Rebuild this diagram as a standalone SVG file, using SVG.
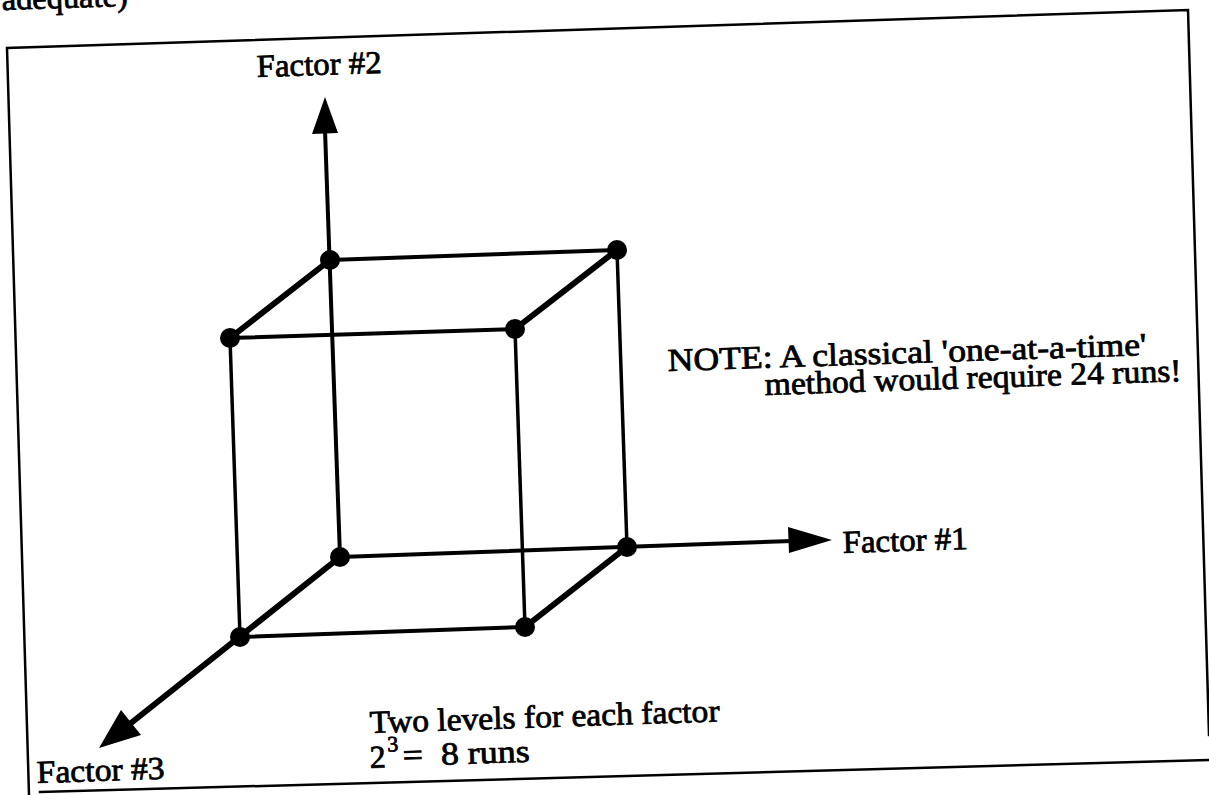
<svg xmlns="http://www.w3.org/2000/svg" width="1209" height="795" viewBox="0 0 1209 795">
  <style>
    .t { font-family: "Liberation Serif", "Times New Roman", serif; font-size: 32px; fill: #000; stroke: #000; stroke-width: 0.8; }
    .frame { fill: none; stroke: #000; stroke-width: 2.5; stroke-linecap: square; }
    .edge { fill: none; stroke: #000; stroke-width: 4; stroke-linecap: round; }
    .depth { fill: none; stroke: #000; stroke-width: 6; stroke-linecap: round; }
    .vert { fill: none; stroke: #000; stroke-width: 3.5; stroke-linecap: round; }
    .head { fill: #000; stroke: none; }
    .node { fill: #000; }
  </style>
  <rect x="0" y="0" width="1209" height="795" fill="#fff"/>

  <text class="t" x="2" y="10" textLength="126" lengthAdjust="spacingAndGlyphs" transform="rotate(-1.9 2 10)">adequate)</text>

  <g id="frame">
    <polyline class="frame" points="29,795 7,48 1188,10 1209,735"/>
    <line class="frame" x1="40" y1="792" x2="1209" y2="760"/>
  </g>

  <g id="connectors">
    <line class="edge" x1="330" y1="260" x2="617" y2="250"/>
    <line class="edge" x1="230" y1="338" x2="515" y2="329"/>
    <line class="depth" x1="330" y1="260" x2="230" y2="338"/>
    <line class="depth" x1="617" y1="250" x2="515" y2="329"/>
    <line class="vert" x1="230" y1="338" x2="240" y2="637"/>
    <line class="vert" x1="515" y1="329" x2="525" y2="627"/>
    <line class="vert" x1="617" y1="250" x2="627" y2="547"/>
    <line class="edge" x1="240" y1="637" x2="525" y2="627"/>
    <line class="depth" x1="525" y1="627" x2="627" y2="547"/>
    <line class="edge" x1="340" y1="557" x2="325" y2="130"/>
    <polygon class="head" points="325,97 312,134 338,133"/>
    <line class="edge" x1="340" y1="557" x2="792" y2="541"/>
    <polygon class="head" points="832,540 788,527 789,553"/>
    <line class="depth" x1="340" y1="557" x2="126" y2="727"/>
    <polygon class="head" points="99,748 121,710 141,735"/>
  </g>

  <g id="vertices">
    <circle id="v-tbl" class="node" cx="330" cy="260" r="10"/>
    <circle id="v-tbr" class="node" cx="617" cy="250" r="10"/>
    <circle id="v-tfl" class="node" cx="230" cy="338" r="10"/>
    <circle id="v-tfr" class="node" cx="515" cy="329" r="10"/>
    <circle id="v-bbl" class="node" cx="340" cy="557" r="10"/>
    <circle id="v-bbr" class="node" cx="627" cy="547" r="10"/>
    <circle id="v-bfl" class="node" cx="240" cy="637" r="10"/>
    <circle id="v-bfr" class="node" cx="525" cy="627" r="10"/>
  </g>

  <g id="label-factor2">
    <text class="t" x="257" y="77" textLength="125" lengthAdjust="spacingAndGlyphs" transform="rotate(-1.9 257 77)">Factor #2</text>
  </g>
  <g id="label-factor1">
    <text class="t" x="843" y="553" textLength="125" lengthAdjust="spacingAndGlyphs" transform="rotate(-1.9 843 553)">Factor #1</text>
  </g>
  <g id="label-factor3">
    <text class="t" x="37" y="783" textLength="128" lengthAdjust="spacingAndGlyphs" transform="rotate(-1.9 37 783)">Factor #3</text>
  </g>
  <g id="note">
    <text class="t" x="668" y="371" textLength="479" lengthAdjust="spacingAndGlyphs" transform="rotate(-1.9 668 371)">NOTE: A classical 'one-at-a-time'</text>
    <text class="t" x="765" y="395" textLength="417" lengthAdjust="spacingAndGlyphs" transform="rotate(-1.9 765 395)">method would require 24 runs!</text>
  </g>
  <g id="runs">
    <text class="t" x="370" y="733" textLength="350" lengthAdjust="spacingAndGlyphs" transform="rotate(-1.9 370 733)">Two levels for each factor</text>
    <g transform="rotate(-1.9 370 768)">
      <text class="t" x="370" y="768">2</text>
      <text class="t" x="388" y="752" style="font-size:22px">3</text>
      <text class="t" x="403" y="767" xml:space="preserve" textLength="127" lengthAdjust="spacingAndGlyphs">=  8 runs</text>
    </g>
  </g>
</svg>
